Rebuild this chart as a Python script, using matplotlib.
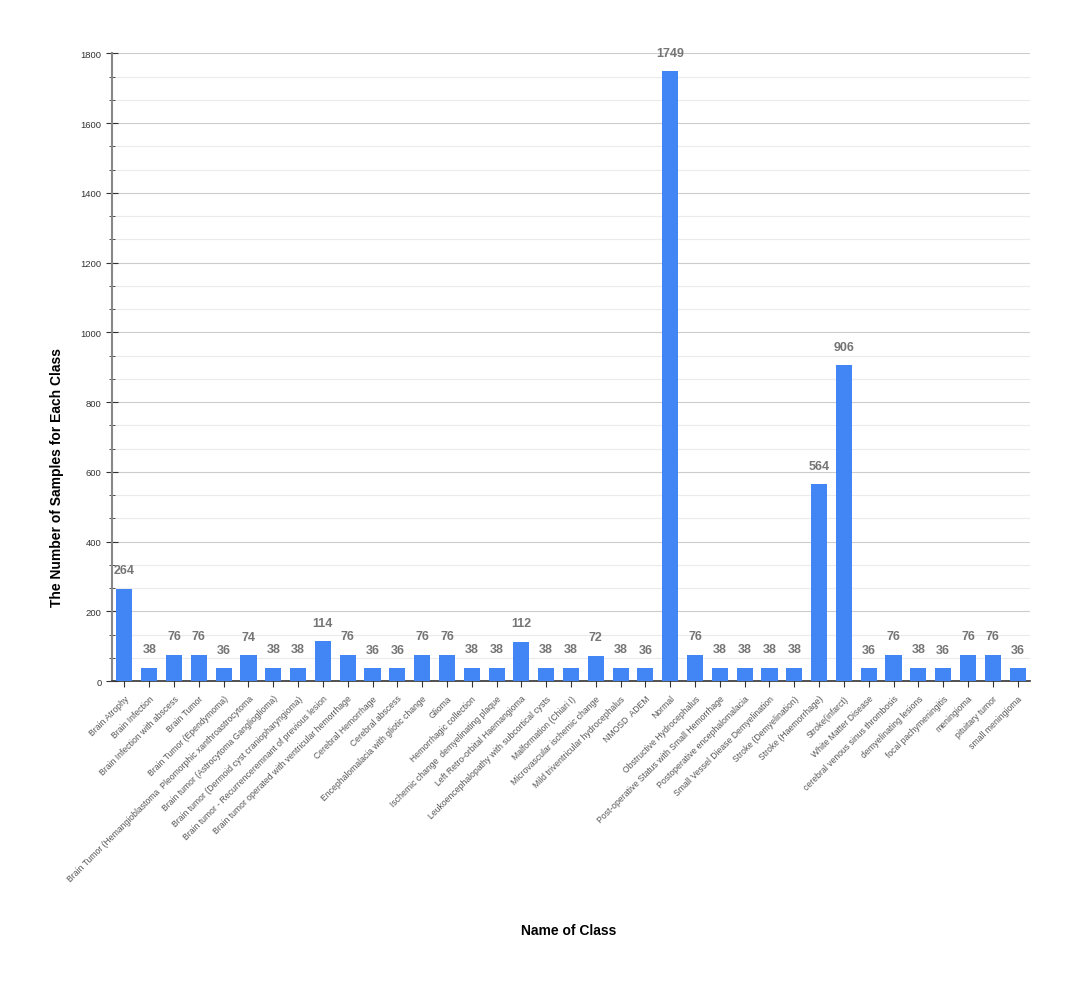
import matplotlib.pyplot as plt
from matplotlib import font_manager
from matplotlib.ticker import MultipleLocator


def find_font(name, bold=False):
    for f in font_manager.fontManager.ttflist:
        if f.name == name and f.stretch == 'normal' and f.style == 'normal':
            w = f.weight if isinstance(f.weight, int) else (700 if f.weight == 'bold' else 400)
            if (w >= 600) == bold:
                return font_manager.FontProperties(fname=f.fname)
    return font_manager.FontProperties(family='DejaVu Sans',
                                       weight='bold' if bold else 'normal')


regular = find_font('Liberation Sans')
bold = find_font('Liberation Sans', bold=True)

classes = [
    "Brain Atrophy", "Brain Infection", "Brain Infection with abscess", "Brain Tumor",
    "Brain Tumor (Ependymoma)",
    "Brain Tumor (Hemangioblastoma  Pleomorphic xanthroastrocytoma",
    "Brain tumor (Astrocytoma Ganglioglioma)",
    "Brain tumor (Dermoid cyst craniopharyngioma)",
    "Brain tumor - Recurrenceremnant of previous lesion",
    "Brain tumor operated with ventricular hemorrhage",
    "Cerebral Hemorrhage", "Cerebral abscess",
    "Encephalomalacia with gliotic change", "Glioma", "Hemorrhagic collection",
    "Ischemic change  demyelinating plaque", "Left Retro-orbital Haemangioma",
    "Leukoencephalopathy with subcortical cysts", "Malformation (Chiari I)",
    "Microvascular ischemic change", "Mild triventricular hydrocephalus",
    "NMOSD  ADEM", "Normal", "Obstructive Hydrocephalus",
    "Post-operative Status with Small Hemorrhage", "Postoperative encephalomalacia",
    "Small Vessel Diease Demyelination", "Stroke (Demyelination)",
    "Stroke (Haemorrhage)", "Stroke(infarct)", "White Matter Disease",
    "cerebral venous sinus thrombosis", "demyelinating lesions",
    "focal pachymeningitis", "meningioma", "pituitary tumor", "small meningioma",
]
counts = [264, 38, 76, 76, 36, 74, 38, 38, 114, 76, 36, 36, 76, 76, 38, 38, 112,
          38, 38, 72, 38, 36, 1749, 76, 38, 38, 38, 38, 564, 906, 36, 76, 38, 36,
          76, 76, 36]

fig = plt.figure(figsize=(10.8, 9.87), dpi=100)
ax = fig.add_axes([0.1037, 0.309, 0.85, 0.636])

x = range(len(classes))
ax.bar(x, counts, width=0.65, color='#4285F4', zorder=3)

for xi, v in zip(x, counts):
    ax.annotate(str(v), (xi, v), xytext=(0, 9), textcoords='offset points',
                ha='center', va='bottom', fontproperties=bold, fontsize=9,
                color='#757575')

ax.set_xlim(-0.5, len(classes) - 0.5)
ax.set_ylim(0, 1800)
ax.yaxis.set_major_locator(MultipleLocator(200))
ax.yaxis.set_minor_locator(MultipleLocator(200 / 3))
ax.grid(axis='y', which='major', color='#cccccc', linewidth=0.8, zorder=0)
ax.grid(axis='y', which='minor', color='#ebebeb', linewidth=0.8, zorder=0)

ax.set_xticks(list(x))
ax.set_xticklabels(classes, rotation=45, ha='right', rotation_mode='anchor',
                   fontproperties=regular, fontsize=6.2, color='#555555')
for lab in ax.get_yticklabels():
    lab.set_fontproperties(regular)
ax.tick_params(axis='y', which='major', direction='inout', length=8,
               labelsize=6.8, labelcolor='#333333', color='#333333')
ax.tick_params(axis='y', which='minor', direction='inout', length=5, color='#333333')
ax.tick_params(axis='x', direction='inout', length=8, color='#333333', pad=5)

for s in ['top', 'right']:
    ax.spines[s].set_visible(False)
ax.spines['left'].set_color('#888888')
ax.spines['left'].set_linewidth(1.5)
ax.spines['bottom'].set_color('#333333')
ax.spines['bottom'].set_linewidth(1.2)

fig.text(0.053, 0.516, "The Number of Samples for Each Class", fontproperties=bold,
         fontsize=10, rotation=90, ha='center', va='center')
fig.text(0.527, 0.057, "Name of Class", fontproperties=bold, fontsize=10,
         ha='center', va='center')

fig.savefig('out.png', dpi=100)
